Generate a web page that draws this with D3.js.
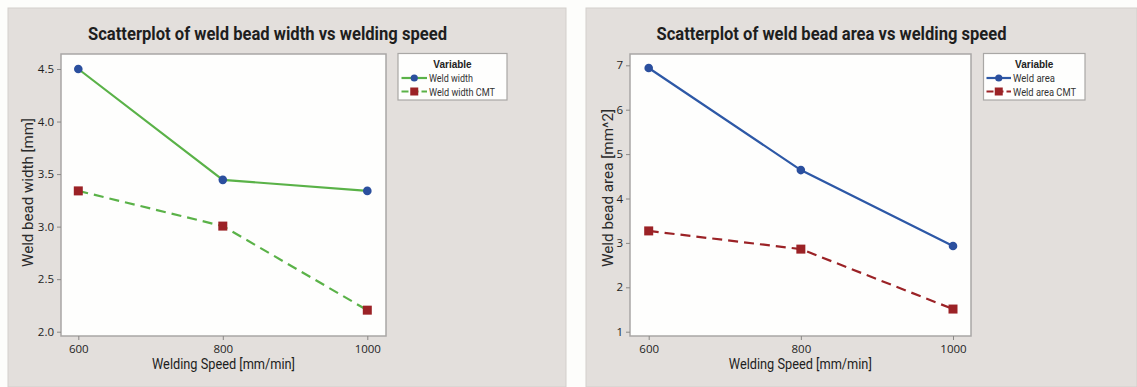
<!DOCTYPE html>
<html><head><meta charset="utf-8">
<script src="https://cdn.jsdelivr.net/npm/d3@7"></script>
<style>body{margin:0;background:#fdfdfb;} svg{display:block;}</style>
</head><body>
<svg id="chart" width="1137" height="387"></svg>
<script>
const speeds = [600, 800, 1000];
const xTicks = [600, 800, 1000];
const weldWidth = [4.5, 3.445, 3.34];
const weldWidthCMT = [3.34, 3.005, 2.205];
const widthTicks = [2.0, 2.5, 3.0, 3.5, 4.0, 4.5];
const weldArea = [6.94, 4.64, 2.93];
const weldAreaCMT = [3.27, 2.86, 1.51];
const areaTicks = [1, 2, 3, 4, 5, 6, 7];

const svg = d3.select("#chart");
const FONT = "'Open Sans', 'Liberation Sans', Arial, sans-serif";
const TFONT = "Roboto, 'Liberation Sans', Arial, sans-serif";
const LFONT = "'Liberation Sans', Arial, sans-serif";
const GREEN = "#5ab248", BLUE = "#2d58a6", RED = "#9b2226", NAVY = "#2b4f9e";

function panel(cfg) {
  const g = svg.append("g");
  g.append("rect").attr("x", cfg.px).attr("y", 8).attr("width", cfg.pw).attr("height", 379)
    .attr("fill", "#e3dfdc").attr("stroke", "#d3cfcc").attr("stroke-width", 1);
  const x = d3.scaleLinear().domain(cfg.xDom).range(cfg.xRange);
  const y = d3.scaleLinear().domain(cfg.yDom).range(cfg.yRange);
  g.append("rect").attr("x", cfg.box[0]).attr("y", cfg.box[1])
    .attr("width", cfg.box[2] - cfg.box[0]).attr("height", cfg.box[3] - cfg.box[1])
    .attr("fill", "#fefefd").attr("stroke", "#a9a7a5").attr("stroke-width", 1.5);
  const ya = d3.axisLeft(y).tickValues(cfg.yTicks).tickFormat(cfg.yFmt).tickSize(4).tickPadding(3);
  const yg = g.append("g").attr("transform", `translate(${cfg.box[0]},0)`).call(ya);
  const xa = d3.axisBottom(x).tickValues(xTicks).tickFormat(d3.format("d")).tickSize(4).tickPadding(5);
  const xg = g.append("g").attr("transform", `translate(0,${cfg.box[3]})`).call(xa);
  [yg, xg].forEach(a => {
    a.select(".domain").remove();
    a.selectAll(".tick line").attr("stroke", "#8a8886");
    a.selectAll(".tick text").attr("font-family", FONT).attr("font-size", 11.5).attr("fill", "#1e1e1e");
  });
  g.append("text").attr("x", cfg.titleX).attr("y", 40).attr("text-anchor", "middle")
    .attr("font-family", TFONT).attr("font-weight", "bold").attr("font-size", 18).attr("fill", "#1e1e1e")
    .attr("textLength", cfg.titleW).attr("lengthAdjust", "spacingAndGlyphs").text(cfg.title);
  g.append("text").attr("x", cfg.xLabX).attr("y", 369).attr("text-anchor", "middle")
    .attr("font-family", TFONT).attr("font-size", 15).attr("fill", "#1e1e1e")
    .attr("textLength", 143).attr("lengthAdjust", "spacingAndGlyphs").text("Welding Speed [mm/min]");
  g.append("text").attr("transform", `translate(${cfg.yLabX},${cfg.yLabY}) rotate(-90)`)
    .attr("text-anchor", "middle").attr("font-family", TFONT).attr("font-size", 15.5).attr("fill", "#2a2a2a")
    .attr("textLength", cfg.yLabW).attr("lengthAdjust", "spacingAndGlyphs").text(cfg.yLab);
  const line = d3.line().x((d, i) => x(speeds[i])).y(d => y(d));
  cfg.series.forEach(s => {
    g.append("path").datum(s.values).attr("d", line).attr("fill", "none")
      .attr("stroke", s.color).attr("stroke-width", 2.2)
      .attr("stroke-dasharray", s.dashed ? "10,6" : null);
    s.values.forEach((v, i) => {
      if (s.shape === "circle") {
        g.append("circle").attr("cx", x(speeds[i])).attr("cy", y(v)).attr("r", 4.3).attr("fill", NAVY);
      } else {
        g.append("rect").attr("x", x(speeds[i]) - 4.5).attr("y", y(v) - 4.5)
          .attr("width", 9).attr("height", 9).attr("fill", RED);
      }
    });
  });
  const L = cfg.leg;
  g.append("rect").attr("x", L.x0).attr("y", 53.5).attr("width", L.x1 - L.x0).attr("height", 46.5)
    .attr("fill", "#fefefd").attr("stroke", "#a9a7a5").attr("stroke-width", 1.2);
  g.append("text").attr("x", (L.x0 + L.x1) / 2).attr("y", 68).attr("text-anchor", "middle")
    .attr("font-family", LFONT).attr("font-weight", "bold").attr("font-size", 10).attr("fill", "#222").text("Variable");
  cfg.series.forEach((s, k) => {
    const yy = 78 + k * 13.5;
    g.append("line").attr("x1", L.l0).attr("x2", L.l1).attr("y1", yy).attr("y2", yy)
      .attr("stroke", s.color).attr("stroke-width", 2.2).attr("stroke-dasharray", s.dashed ? "7,3" : null);
    const mx = (L.l0 + L.l1) / 2;
    if (s.shape === "circle") g.append("circle").attr("cx", mx).attr("cy", yy).attr("r", 3.6).attr("fill", NAVY);
    else g.append("rect").attr("x", mx - 4).attr("y", yy - 4).attr("width", 8).attr("height", 8).attr("fill", RED);
    g.append("text").attr("x", L.l1 + 2).attr("y", yy + 4).attr("font-family", TFONT).attr("font-size", 11)
      .attr("fill", "#333").attr("textLength", L.tw[k]).attr("lengthAdjust", "spacingAndGlyphs").text(s.name);
  });
}

panel({
  px: 8, pw: 558, xDom: [600, 1000], xRange: [78.3, 367.3], yDom: [2.0, 4.5], yRange: [331.7, 69],
  box: [61, 54, 386, 336], yTicks: widthTicks, yFmt: d3.format(".1f"),
  title: "Scatterplot of weld bead width vs welding speed", titleX: 267.5, titleW: 359,
  xLabX: 223.5, yLab: "Weld bead width [mm]", yLabX: 33, yLabY: 192.5, yLabW: 149,
  series: [
    {name: "Weld width", values: weldWidth, color: GREEN, dashed: false, shape: "circle"},
    {name: "Weld width CMT", values: weldWidthCMT, color: GREEN, dashed: true, shape: "square"}
  ],
  leg: {x0: 398, x1: 507, l0: 401.5, l1: 427, tw: [44, 66]}
});

panel({
  px: 586, pw: 551, xDom: [600, 1000], xRange: [648.7, 953], yDom: [1, 7], yRange: [331.7, 65.3],
  box: [630, 54, 971, 336], yTicks: areaTicks, yFmt: d3.format("d"),
  title: "Scatterplot of weld bead area vs welding speed", titleX: 831.5, titleW: 350,
  xLabX: 800.3, yLab: "Weld bead area [mm^2]", yLabX: 612.5, yLabY: 188, yLabW: 158,
  series: [
    {name: "Weld area", values: weldArea, color: BLUE, dashed: false, shape: "circle"},
    {name: "Weld area CMT", values: weldAreaCMT, color: RED, dashed: true, shape: "square"}
  ],
  leg: {x0: 983.5, x1: 1085, l0: 986.5, l1: 1011, tw: [42, 63]}
});
</script>
</body></html>
